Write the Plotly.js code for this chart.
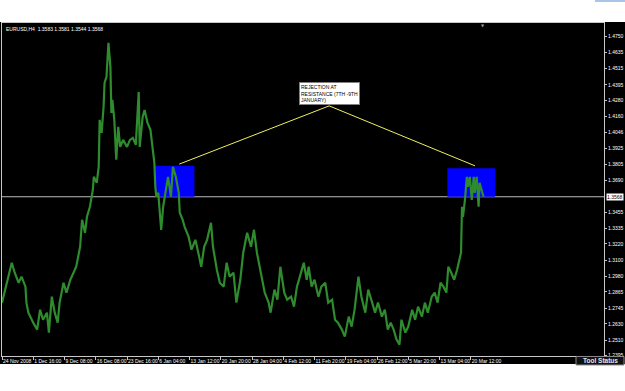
<!DOCTYPE html>
<html>
<head>
<meta charset="utf-8">
<script src="https://cdn.plot.ly/plotly-3.0.1.min.js"></script>
<style>html,body{margin:0;padding:0;background:#fff;}#chart{width:625px;height:391px;}</style>
</head>
<body>
<div id="chart"></div>
<script>
// ---- data (EURUSD H4, bar index on x) ----
const barIdx = [0,10,13,17,20,24,25,27,32,36,39,42,46,48,51,54,57,59,63,66,70,73,76,80,82,85,87,90,93,94,97,99,100,102,104,105,107,109,111,112,113,115,117,119,121,124,128,131,134,137,140,141,144,146,149,152,154,156,157,158,160,163,165,168,170,173,175,178,181,182,185,187,191,194,198,201,204,207,210,214,216,220,223,227,230,233,237,240,244,247,251,255,258,261,265,269,273,275,279,282,285,289,292,296,299,302,305,309,312,314,317,320,324,327,331,334,338,341,344,348,351,355,358,361,365,368,372,375,379,382,385,389,392,395,398,401,404,407,409,413,416,420,423,426,430,433,436,440,443,446,449,452,455,457,460,463,466,468,470,471,472,474,476,477,479,481,483,484,486,488,489,491,493];
const closePrice = [1.2786,1.3081,1.3007,1.2933,1.2978,1.2904,1.2786,1.2712,1.2638,1.2587,1.2734,1.2660,1.2712,1.2565,1.2830,1.2712,1.2638,1.2786,1.2933,1.2860,1.2955,1.3007,1.3051,1.3199,1.3398,1.3302,1.3420,1.3494,1.3619,1.3715,1.3671,1.3789,1.4136,1.4040,1.4231,1.4408,1.4453,1.4704,1.4527,1.4187,1.4283,1.4136,1.3841,1.4084,1.3936,1.3988,1.3936,1.3988,1.4003,1.3951,1.4342,1.3936,1.4158,1.4209,1.4113,1.4062,1.3936,1.3818,1.3641,1.3568,1.3597,1.3324,1.3494,1.3619,1.3715,1.3568,1.3789,1.3715,1.3597,1.3450,1.3398,1.3346,1.3273,1.3177,1.3250,1.3155,1.3051,1.3199,1.3250,1.3376,1.3199,1.3029,1.2933,1.2904,1.3081,1.2978,1.3007,1.2786,1.2955,1.3155,1.3302,1.3199,1.3324,1.3155,1.3007,1.2860,1.2786,1.2712,1.2882,1.2808,1.3051,1.2860,1.2808,1.2830,1.2756,1.2904,1.2978,1.3081,1.2955,1.3051,1.2904,1.2955,1.2830,1.2904,1.2933,1.2786,1.2808,1.2660,1.2638,1.2587,1.2535,1.2683,1.2609,1.2734,1.2978,1.2830,1.2712,1.2882,1.2786,1.2712,1.2786,1.2683,1.2734,1.2587,1.2638,1.2587,1.2513,1.2476,1.2660,1.2565,1.2609,1.2734,1.2660,1.2756,1.2683,1.2786,1.2712,1.2830,1.2860,1.2786,1.2933,1.2904,1.2860,1.3051,1.3007,1.2955,1.3029,1.3103,1.3155,1.3494,1.3420,1.3545,1.3715,1.3641,1.3715,1.3545,1.3715,1.3597,1.3715,1.3494,1.3671,1.3619,1.3568];

const xTickBars = [0,32,64,96,128,160,192,224,256,288,320,352,384,416,448,480];
const xTickLabels = ["24 Nov 2008","1 Dec 16:00","9 Dec 08:00","16 Dec 08:00","23 Dec 16:00","6 Jan 04:00","13 Jan 12:00","20 Jan 20:00","28 Jan 04:00","4 Feb 12:00","11 Feb 20:00","19 Feb 04:00","26 Feb 12:00","5 Mar 20:00","13 Mar 04:00","20 Mar 12:00"];
const yTickVals = [1.4750,1.4635,1.4515,1.4395,1.4280,1.4160,1.4046,1.3925,1.3805,1.3690,1.3455,1.3335,1.3220,1.3100,1.2980,1.2865,1.2745,1.2630,1.2510,1.2395];
const yTickText = ["1.4750","1.4635","1.4515","1.4395","1.4280","1.4160","1.4046","1.3925","1.3805","1.3690","1.3455","1.3335","1.3220","1.3100","1.2980","1.2865","1.2745","1.2630","1.2510","1.2395"];

const currentPrice = 1.3568;
const titleText = "EURUSD,H4  1.3583 1.3581 1.3544 1.3568";

// resistance zones
const zoneStart = [157, 456];
const zoneEnd = [197, 505];
const zoneTop = [1.3796, 1.3779];

// annotation connector lines
const noteLineX = [181.5, 335, 484.4];
const noteLineY = [1.3809, 1.4239, 1.3796];
const noteText = "REJECTION AT<br>RESISTANCE (7TH -9TH<br>JANUARY)";
const notePos = {x: 335, y: 1.4327};

const FONT = "Liberation Sans, Arial, sans-serif";

const traces = [
  {x: barIdx, y: closePrice, type: 'scatter', mode: 'lines',
   line: {color: '#2e8b2e', width: 2.2}, hoverinfo: 'skip'},
  {x: noteLineX, y: noteLineY, type: 'scatter', mode: 'lines',
   line: {color: '#f0f060', width: 1}, hoverinfo: 'skip'}
];

const shapes = [
  {type: 'rect', xref: 'paper', yref: 'paper', x0: -0.01, x1: 1.04, y0: -0.024, y1: 1.003,
   fillcolor: '#000000', line: {width: 0}, layer: 'below'}
];
for (let i = 0; i < zoneStart.length; i++) {
  shapes.push({type: 'rect', xref: 'x', yref: 'y', x0: zoneStart[i], x1: zoneEnd[i],
    y0: currentPrice, y1: zoneTop[i], fillcolor: '#0000ff', line: {width: 0}, layer: 'below'});
}
shapes.push({type: 'line', xref: 'paper', yref: 'y', x0: 0, x1: 1, y0: currentPrice, y1: currentPrice,
  line: {color: '#bdbdbd', width: 1}, layer: 'below'});
shapes.push({type: 'rect', xref: 'paper', yref: 'paper', x0: 0.9535, x1: 1.0332, y0: -0.027, y1: -0.0015,
  fillcolor: '#111111', line: {color: '#8a8a8a', width: 1}, layer: 'above'});
shapes.push({type: 'rect', xref: 'paper', yref: 'paper', x0: 0.985, x1: 1.04, y0: 1.063, y1: 1.069,
  fillcolor: '#a9c6e8', line: {width: 0}, layer: 'above'});

const annotations = [
  {xref: 'paper', yref: 'paper', x: 0.0033, y: 0.983, xanchor: 'left', yanchor: 'middle',
   text: titleText, showarrow: false, font: {family: FONT, size: 5, color: '#ffffff'}},
  {xref: 'x', yref: 'y', x: notePos.x, y: notePos.y, xanchor: 'center', yanchor: 'middle',
   text: noteText, align: 'left', showarrow: false, bgcolor: '#ffffff', bordercolor: '#808080',
   borderwidth: 1, borderpad: 1, font: {family: FONT, size: 5, color: '#000000'}},
  {xref: 'paper', yref: 'y', x: 1, y: currentPrice, xanchor: 'left', yanchor: 'middle', xshift: 2,
   text: currentPrice.toFixed(4), showarrow: false, bgcolor: '#ffffff', borderpad: 0,
   font: {family: FONT, size: 5, color: '#000000'}},
  {xref: 'paper', yref: 'paper', x: 0.9934, y: -0.0145, xanchor: 'center', yanchor: 'middle',
   text: '<b>Tool Status</b>', showarrow: false, font: {family: FONT, size: 6.5, color: '#e8e8e8'}},
  {xref: 'paper', yref: 'paper', x: 0.799, y: 0.992, xanchor: 'center', yanchor: 'middle',
   text: '▼', showarrow: false, font: {family: 'DejaVu Sans', size: 4, color: '#a0a0a0'}}
];

const layout = {
  width: 625, height: 391,
  margin: {l: 2, r: 21, t: 23, b: 35, pad: 0},
  paper_bgcolor: '#ffffff', plot_bgcolor: 'rgba(0,0,0,0)',
  showlegend: false,
  font: {family: FONT, size: 5, color: '#ffffff'},
  xaxis: {range: [0, 616.4], showgrid: false, zeroline: false, showline: true, mirror: true,
    linecolor: '#c8c8c8', linewidth: 1, ticks: 'outside', ticklen: 3, tickcolor: '#c8c8c8',
    tickvals: xTickBars, ticktext: xTickLabels, ticklabelposition: 'outside right', tickangle: 0,
    tickfont: {family: FONT, size: 5, color: '#ffffff'}, fixedrange: true},
  yaxis: {range: [1.2392, 1.4851], side: 'right', showgrid: false, zeroline: false, showline: true,
    mirror: true, linecolor: '#c8c8c8', linewidth: 1, ticks: 'outside', ticklen: 2,
    tickcolor: '#c8c8c8', tickvals: yTickVals, ticktext: yTickText,
    tickfont: {family: FONT, size: 5, color: '#ffffff'}, fixedrange: true},
  shapes: shapes,
  annotations: annotations
};

Plotly.newPlot('chart', traces, layout, {displayModeBar: false, staticPlot: true});
</script>
</body>
</html>
